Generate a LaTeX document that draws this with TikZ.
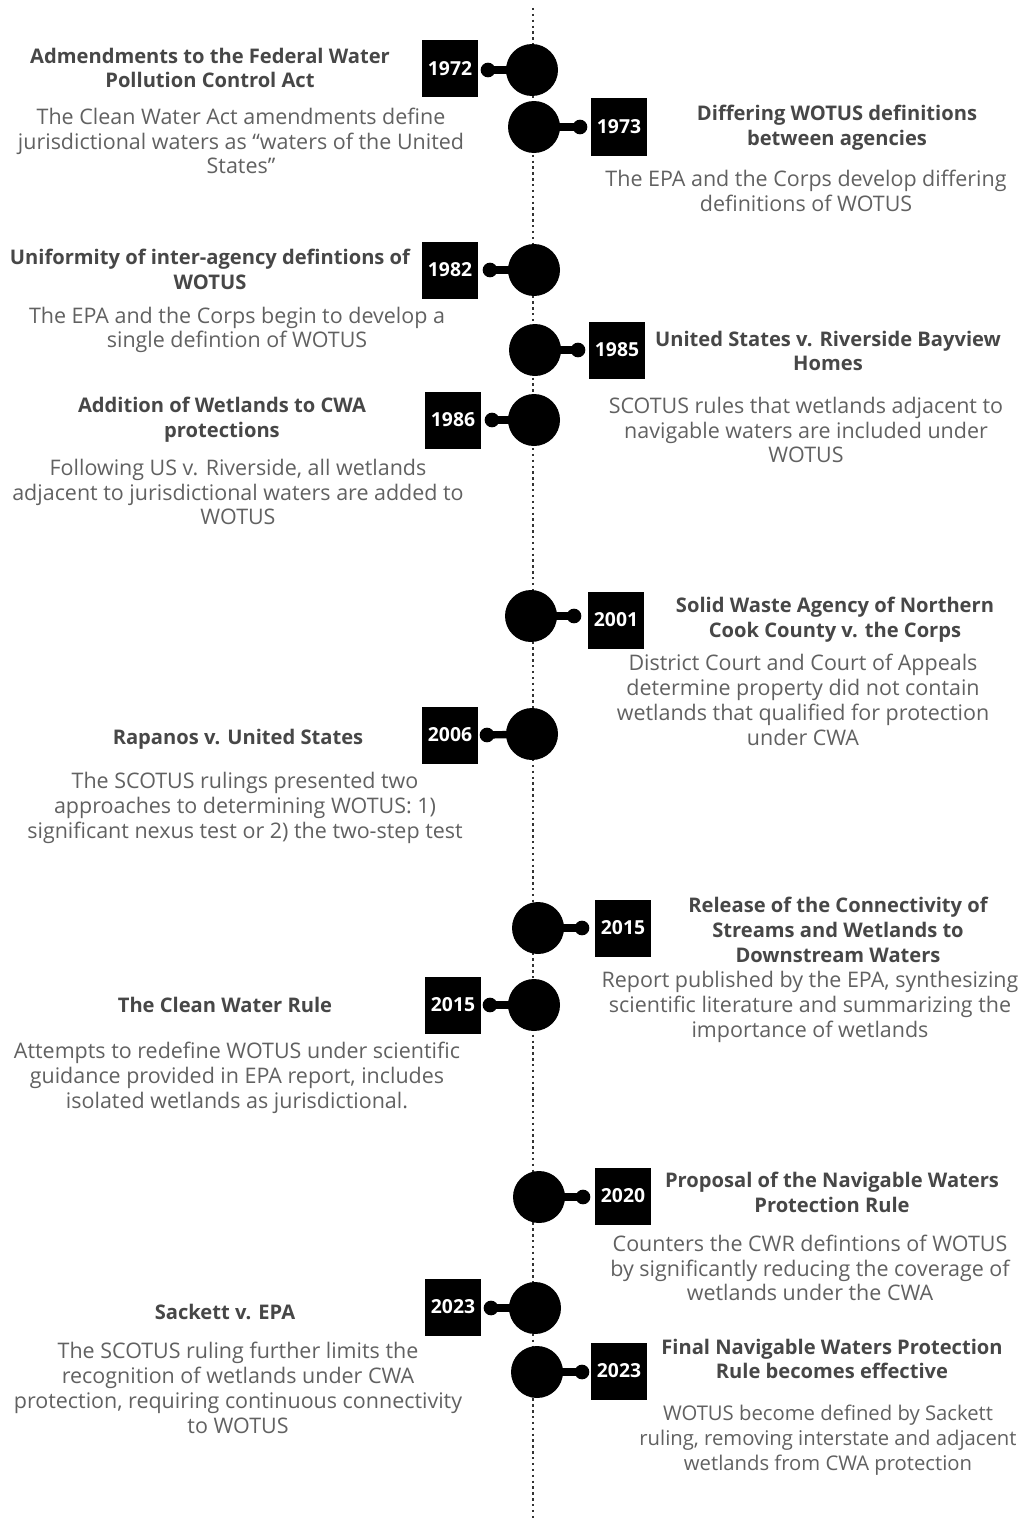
\documentclass[tikz,border=0pt]{standalone}
\usepackage{fontspec}
\setmainfont{Open Sans}
\tikzset{
  spine/.style={line width=1.6pt, black!80, dash pattern=on 1.8pt off 2.6pt},
  dot/.style={circle, fill=black, minimum size=39pt, inner sep=0pt},
  knob/.style={circle, fill=black, minimum size=11pt, inner sep=0pt},
  neck/.style={line width=5.5pt},
  yearbox/.style={fill=black, text=white, font=\bfseries\fontsize{14.5}{15}\selectfont, minimum width=42pt, minimum height=42.75pt, inner sep=0pt},
  head/.style={align=center, text=black!72, font=\bfseries\fontsize{15.1}{18.6}\selectfont},
  body/.style={align=center, text=black!62, font=\fontsize{16.1}{18.6}\selectfont}
}
\begin{document}
\begin{tikzpicture}[x=0.75pt,y=-0.75pt]
\useasboundingbox[fill=white] (0,0) rectangle (1023,1520);
\coordinate (top) at (533,8);
\coordinate (bot) at (533,1520);
\draw[spine] (top) -- (bot);

\node[dot] (c1972) at (532,70) {};
\node[knob] (k1972) at (488,70) {};
\draw[neck] (k1972.center) -- (c1972.center);
\node[yearbox] (y1972) at (450,69) {1972};
\node[head] (h1972) at (210,68) {Admendments to the Federal Water\\Pollution Control Act};
\node[body] (b1972) at (241,141) {The Clean Water Act amendments define\\jurisdictional waters as “waters of the United\\States”};

\node[dot] (c1973) at (534,127) {};
\node[knob] (k1973) at (580,127) {};
\draw[neck] (k1973.center) -- (c1973.center);
\node[yearbox] (y1973) at (619,127) {1973};
\node[head] (h1973) at (837,128) {Differing WOTUS definitions\\between agencies};
\node[body] (b1973) at (806,191) {The EPA and the Corps develop differing\\definitions of WOTUS};

\node[dot] (c1982) at (534,270) {};
\node[knob] (k1982) at (490,270) {};
\draw[neck] (k1982.center) -- (c1982.center);
\node[yearbox] (y1982) at (450,270) {1982};
\node[head] (h1982) at (210,269) {Uniformity of inter-agency defintions of\\WOTUS};
\node[body] (b1982) at (237,330) {The EPA and the Corps begin to develop a\\single defintion of WOTUS};

\node[dot] (c1985) at (535,350) {};
\node[knob] (k1985) at (578,350) {};
\draw[neck] (k1985.center) -- (c1985.center);
\node[yearbox] (y1985) at (617,350) {1985};
\node[head] (h1985) at (828,351) {United States v. Riverside Bayview\\Homes};
\node[body] (b1985) at (806,430) {SCOTUS rules that wetlands adjacent to\\navigable waters are included under\\WOTUS};

\node[dot] (c1986) at (534,420) {};
\node[knob] (k1986) at (492,420) {};
\draw[neck] (k1986.center) -- (c1986.center);
\node[yearbox] (y1986) at (453,420) {1986};
\node[head] (h1986) at (222,420) {Addition of Wetlands to CWA\\protections};
\node[body] (b1986) at (238,492) {Following US v. Riverside, all wetlands\\adjacent to jurisdictional waters are added to\\WOTUS};

\node[dot] (c2001) at (531,616) {};
\node[knob] (k2001) at (574,616) {};
\draw[neck] (k2001.center) -- (c2001.center);
\node[yearbox] (y2001) at (616,620) {2001};
\node[head] (h2001) at (835,620) {Solid Waste Agency of Northern\\Cook County v. the Corps};
\node[body] (b2001) at (803,700) {District Court and Court of Appeals\\determine property did not contain\\wetlands that qualified for protection\\under CWA};

\node[dot] (c2006) at (532,734) {};
\node[knob] (k2006) at (487,735) {};
\draw[neck] (k2006.center) -- (c2006.center);
\node[yearbox] (y2006) at (450,735) {2006};
\node[head] (h2006) at (238,739) {Rapanos v. United States};
\node[body] (b2006) at (245,808) {The SCOTUS rulings presented two\\approaches to determining WOTUS: 1)\\significant nexus test or 2) the two-step test};

\node[dot] (c2015r) at (538,928) {};
\node[knob] (k2015r) at (582,928) {};
\draw[neck] (k2015r.center) -- (c2015r.center);
\node[yearbox] (y2015r) at (623,928) {2015};
\node[head] (h2015r) at (838,930) {Release of the Connectivity of\\Streams and Wetlands to\\Downstream Waters};
\node[body] (b2015r) at (810,1007) {Report published by the EPA, synthesizing\\scientific literature and summarizing the\\importance of wetlands};

\node[dot] (c2015l) at (534,1005) {};
\node[knob] (k2015l) at (490,1005) {};
\draw[neck] (k2015l.center) -- (c2015l.center);
\node[yearbox] (y2015l) at (453,1005) {2015};
\node[head] (h2015l) at (225,1005) {The Clean Water Rule};
\node[body] (b2015l) at (237,1078) {Attempts to redefine WOTUS under scientific\\guidance provided in EPA report, includes\\isolated wetlands as jurisdictional.};

\node[dot] (c2020) at (539,1197) {};
\node[knob] (k2020) at (583,1197) {};
\draw[neck] (k2020.center) -- (c2020.center);
\node[yearbox] (y2020) at (623,1196) {2020};
\node[head] (h2020) at (832,1192) {Proposal of the Navigable Waters\\Protection Rule};
\node[body] (b2020) at (810,1268) {Counters the CWR defintions of WOTUS\\by significantly reducing the coverage of\\wetlands under the CWA};

\node[dot] (c2023l) at (535,1308) {};
\node[knob] (k2023l) at (491,1308) {};
\draw[neck] (k2023l.center) -- (c2023l.center);
\node[yearbox] (y2023l) at (453,1307) {2023};
\node[head] (h2023l) at (225,1312) {Sackett v. EPA};
\node[body] (b2023l) at (238,1388) {The SCOTUS ruling further limits the\\recognition of wetlands under CWA\\protection, requiring continuous connectivity\\to WOTUS};

\node[dot] (c2023r) at (537,1372) {};
\node[knob] (k2023r) at (582,1372) {};
\draw[neck] (k2023r.center) -- (c2023r.center);
\node[yearbox] (y2023r) at (619,1371) {2023};
\node[head] (h2023r) at (832,1359) {Final Navigable Waters Protection\\Rule becomes effective};
\node[body,font=\fontsize{15.2}{18.6}\selectfont] (b2023r) at (828,1440) {WOTUS become defined by Sackett\\ruling, removing interstate and adjacent\\wetlands from CWA protection};
\end{tikzpicture}
\end{document}
